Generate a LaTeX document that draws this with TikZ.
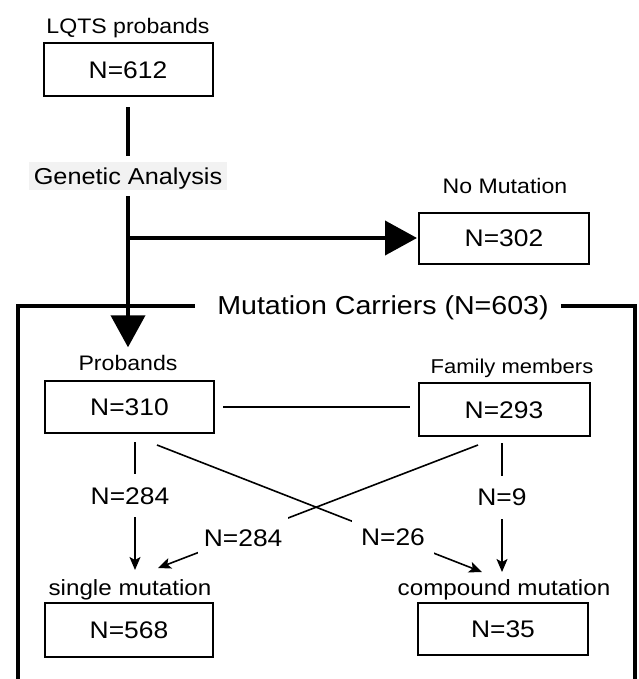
\documentclass[tikz,border=0pt]{standalone}
\usepackage{fontspec}
\setmainfont{Liberation Sans}[FakeStretch=1.1]
\usetikzlibrary{arrows.meta}
\begin{document}
\begin{tikzpicture}[x=1pt,y=-1pt,
  every node/.style={inner sep=0pt, text depth=0pt},
  lbl/.style={font=\fontsize{21}{24}\selectfont, text height=15pt},
  lblb/.style={font=\fontsize{22}{26}\selectfont, text height=15.8pt},
  lbls/.style={font=\fontsize{20}{23}\selectfont, text height=14.3pt},
  num/.style={font=\fontsize{24}{28}\selectfont, text height=17.2pt},
  box/.style={draw, line width=2pt, minimum width=169pt, minimum height=53pt, num},
  thickln/.style={line width=4pt},
  bigarrow/.style={thickln, -{Triangle[length=32pt,width=34pt]}},
  frame/.style={line width=3.5pt},
  conn/.style={line width=1.6pt},
  sarrow/.style={conn, -{Stealth[length=13pt,width=11pt,inset=3pt]}},
  onlbl/.style={num, fill=white, inner xsep=9pt, inner ysep=13pt},
]
\useasboundingbox (0,0) rectangle (638,679);

% nodes
\node[lbl] (lqts) at (128,26) {LQTS probands};
\node[box] (n612) at (128,70) {N=612};
\node[font=\fontsize{23}{27}\selectfont, text height=16.5pt, fill=black!5, inner xsep=5pt, inner ysep=6pt] (gen) at (128,176) {Genetic Analysis};
\node[lbl] (nomut) at (505,186) {No Mutation};
\node[box, minimum width=170pt, minimum height=51pt] (n302) at (504,238) {N=302};
\node[font=\fontsize{26}{30}\selectfont, text height=18.6pt] (title) at (383,305) {Mutation Carriers (N=603)};
\node[lbl] (prlab) at (128,363) {Probands};
\node[box, minimum height=52pt] (n310) at (129.5,407) {N=310};
\node[lbls] (famlab) at (512,366) {Family members};
\node[box, minimum width=171pt] (n293) at (504,409.5) {N=293};
\node[lblb] (sgl) at (130,588) {single mutation};
\node[box, minimum width=168pt, minimum height=54pt] (n568) at (129,630) {N=568};
\node[lblb] (cmp) at (504,588) {compound mutation};
\node[box, minimum width=170pt, minimum height=52pt] (n35) at (503,629) {N=35};

% frame of mutation carriers
\coordinate (ftl) at (18,306);
\coordinate (fbl) at (18,681);
\coordinate (ftr) at (635,306);
\coordinate (fbr) at (635,681);
\coordinate (tgl) at ([xshift=-22pt]title.west);
\coordinate (tgr) at ([xshift=12pt]title.east);
\draw[frame] (tgl |- ftl) -- (ftl) -- (fbl);
\draw[frame] (tgr |- ftr) -- (ftr) -- (fbr);

% main flow
\draw[thickln, shorten <=10pt, shorten >=6pt] (n612.south) -- (gen.north);
\draw[bigarrow, shorten <=6pt, shorten >=8pt] (gen.south) -- (gen.south |- prlab.north);
\coordinate (br) at (gen.south |- n302.west);
\draw[bigarrow, shorten >=1pt] (br) -- (n302.west);

% probands - family members
\draw[conn, shorten <=8pt, shorten >=8pt] (n310.east) -- (n310.east -| n293.west);

% connectors to mutation types
\coordinate (v1s) at (135,442);
\coordinate (v1e) at (135,570);
\draw[sarrow] (v1s) -- node[onlbl, pos=0.42, xshift=-5pt] (l1) {N=284} (v1e);

\coordinate (v2s) at (502,443);
\coordinate (v2e) at (502,572);
\draw[sarrow] (v2s) -- node[onlbl, pos=0.42] (l2) {N=9} (v2e);

\coordinate (c1s) at (157,445);
\coordinate (c1e) at (482,572);
\draw[sarrow] (c1s) -- node[onlbl, pos=0.726] (l3) {N=26} (c1e);

\coordinate (c2s) at (478,445);
\coordinate (c2e) at (158,568);
\draw[sarrow] (c2s) -- node[onlbl, pos=0.734, yshift=-2.5pt, inner xsep=6pt] (l4) {N=284} (c2e);
\end{tikzpicture}
\end{document}
